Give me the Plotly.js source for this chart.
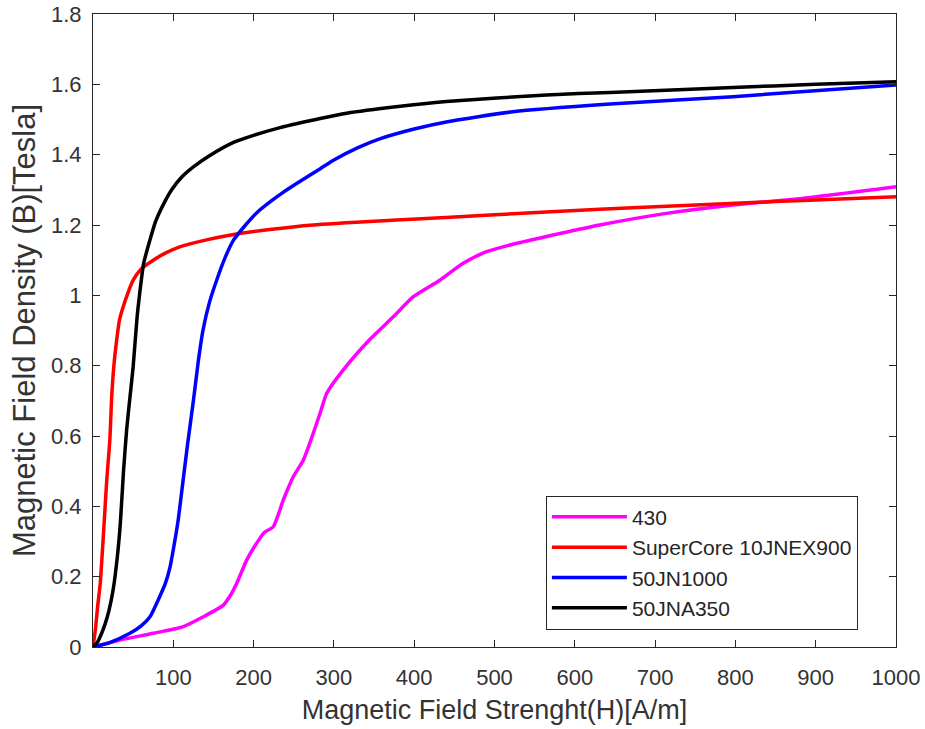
<!DOCTYPE html>
<html>
<head>
<meta charset="utf-8">
<script src="https://cdn.plot.ly/plotly-3.0.1.min.js"></script>
<style>html,body{margin:0;padding:0;background:#fff;}#chart{width:925px;height:729px;}</style>
</head>
<body>
<div id="chart"></div>
<script>
// Series 430
const h430 = [0, 33.6, 75, 112.5, 137.4, 162.3, 172, 179, 191.4, 203.8, 213, 224.5, 237, 249.4, 262, 270, 282.7, 291, 311.7, 345, 374, 399, 432, 461, 490, 527.7, 581.6, 631, 714, 797, 880, 1000];
const b430 = [0, 0.02, 0.039, 0.058, 0.086, 0.119, 0.15, 0.181, 0.247, 0.295, 0.325, 0.342, 0.418, 0.484, 0.532, 0.58, 0.664, 0.721, 0.788, 0.875, 0.939, 0.996, 1.043, 1.091, 1.124, 1.148, 1.176, 1.2, 1.233, 1.257, 1.275, 1.309];
// Series SuperCore 10JNEX900
const hSC = [0, 3, 6, 9, 13, 17, 21, 23.3, 26, 29.5, 33, 37.7, 44, 50, 60, 75, 90, 108, 140, 170, 220, 274, 378, 500, 631, 700, 800, 900, 1000];
const bSC = [0, 0.05, 0.12, 0.181, 0.32, 0.47, 0.59, 0.712, 0.8, 0.873, 0.93, 0.968, 1.01, 1.043, 1.075, 1.1, 1.12, 1.138, 1.157, 1.171, 1.187, 1.2, 1.214, 1.229, 1.245, 1.252, 1.262, 1.271, 1.28];
// Series 50JN1000
const hJN = [0, 20, 46, 60, 71, 83, 90, 96, 101, 106, 112, 118, 125, 131, 137, 145, 154, 165, 175, 190, 204, 220, 235, 255, 283, 300, 330, 357, 400, 440, 523, 644, 797, 1000];
const bJN = [0, 0.012, 0.039, 0.06, 0.086, 0.143, 0.18, 0.228, 0.29, 0.36, 0.47, 0.58, 0.7, 0.81, 0.901, 0.98, 1.043, 1.11, 1.157, 1.2, 1.235, 1.265, 1.29, 1.32, 1.36, 1.385, 1.42, 1.445, 1.473, 1.493, 1.522, 1.544, 1.565, 1.598];
// Series 50JNA350
const hJNA = [0, 5, 10, 15, 20, 25, 30, 34, 38, 42, 46, 50, 55, 60, 63, 70, 78, 88, 98, 110, 125, 145, 175, 200, 233, 283, 316, 380, 440, 565, 644, 797, 900, 1000];
const bJNA = [0, 0.012, 0.035, 0.065, 0.105, 0.162, 0.25, 0.35, 0.5, 0.62, 0.71, 0.797, 0.94, 1.04, 1.09, 1.15, 1.21, 1.26, 1.3, 1.335, 1.365, 1.397, 1.435, 1.455, 1.477, 1.503, 1.518, 1.537, 1.551, 1.57, 1.577, 1.591, 1.6, 1.607];

const seriesNames = ['430', 'SuperCore 10JNEX900', '50JN1000', '50JNA350'];
const seriesColors = ['#ff00ff', '#ff0000', '#0000ff', '#000000'];
const xTicks = [100, 200, 300, 400, 500, 600, 700, 800, 900, 1000];
const yTicks = [0, 0.2, 0.4, 0.6, 0.8, 1, 1.2, 1.4, 1.6, 1.8];

const xs = [h430, hSC, hJN, hJNA];
const ys = [b430, bSC, bJN, bJNA];

const traces = seriesNames.map((n, i) => ({
  x: xs[i], y: ys[i], name: n, type: 'scatter', mode: 'lines',
  line: {color: seriesColors[i], width: 3.5, shape: 'spline', smoothing: 0.6}
}));

const axisCommon = {
  showline: true, linecolor: '#262626', linewidth: 1, mirror: 'ticks',
  ticks: 'inside', ticklen: 7, tickcolor: '#262626', tickwidth: 1,
  showgrid: false, zeroline: false,
  tickfont: {family: 'Liberation Sans, Arial, sans-serif', size: 22, color: '#333333'}
};

const layout = {
  width: 925, height: 729,
  margin: {l: 93, r: 29, t: 14, b: 82},
  paper_bgcolor: '#ffffff', plot_bgcolor: '#ffffff',
  font: {family: 'Liberation Sans, Arial, sans-serif', color: '#333333'},
  xaxis: Object.assign({}, axisCommon, {
    range: [0, 1000], tickmode: 'array', tickvals: xTicks, ticktext: xTicks.map(String),
    ticklabelstandoff: 11,
    title: {text: 'Magnetic Field Strenght(H)[A/m]', font: {size: 27, color: '#333333'}, standoff: 10}
  }),
  yaxis: Object.assign({}, axisCommon, {
    range: [0, 1.8], tickmode: 'array', tickvals: yTicks, ticktext: yTicks.map(String),
    ticklabelstandoff: 6,
    title: {text: 'Magnetic Field Density (B)[Tesla]', font: {size: 31, color: '#333333'}, standoff: 6}
  }),
  showlegend: true,
  legend: {
    x: 0.564, y: 0.239, xanchor: 'left', yanchor: 'top',
    bgcolor: '#ffffff', bordercolor: '#262626', borderwidth: 1,
    font: {size: 21, color: '#262626'}, itemwidth: 75, tracegroupgap: 0
  }
};

Plotly.newPlot('chart', traces, layout, {displayModeBar: false, staticPlot: true});
</script>
</body>
</html>
